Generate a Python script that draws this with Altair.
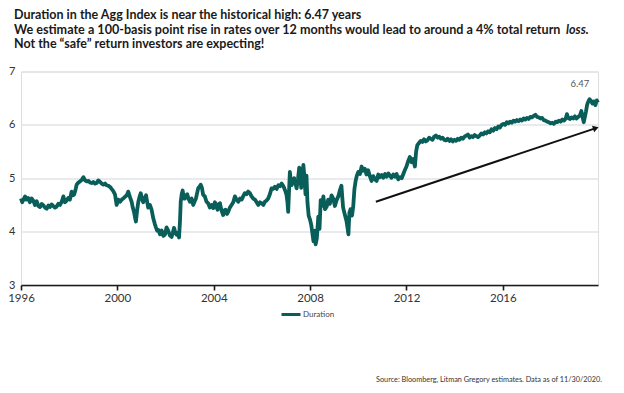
import altair as alt
import pandas as pd

# ---------------- data ----------------
years = [
    1996.00, 1996.05, 1996.10, 1996.17, 1996.23, 1996.30, 1996.37, 1996.44, 1996.51, 1996.58,
    1996.65, 1996.72, 1996.79, 1996.86, 1996.93, 1997.00, 1997.07, 1997.14, 1997.20, 1997.27,
    1997.34, 1997.41, 1997.48, 1997.55, 1997.62, 1997.69, 1997.76, 1997.82, 1997.89, 1997.96,
    1998.03, 1998.10, 1998.16, 1998.21, 1998.27, 1998.31, 1998.38, 1998.45, 1998.52, 1998.59,
    1998.66, 1998.73, 1998.80, 1998.87, 1998.93, 1999.00, 1999.07, 1999.14, 1999.21, 1999.28,
    1999.35, 1999.42, 1999.49, 1999.55, 1999.62, 1999.69, 1999.76, 1999.83, 1999.90, 1999.97,
    2000.04, 2000.11, 2000.18, 2000.24, 2000.31, 2000.39, 2000.45, 2000.52, 2000.59, 2000.64,
    2000.69, 2000.74, 2000.77, 2000.82, 2000.87, 2000.92, 2000.97, 2001.02, 2001.07, 2001.13,
    2001.19, 2001.24, 2001.28, 2001.35, 2001.42, 2001.49, 2001.55, 2001.60, 2001.65, 2001.70,
    2001.77, 2001.84, 2001.91, 2001.98, 2002.04, 2002.11, 2002.18, 2002.25, 2002.30, 2002.35,
    2002.41, 2002.46, 2002.51, 2002.56, 2002.60, 2002.63, 2002.67, 2002.71, 2002.76, 2002.80,
    2002.85, 2002.90, 2002.95, 2003.01, 2003.08, 2003.15, 2003.21, 2003.26, 2003.31, 2003.36,
    2003.41, 2003.46, 2003.51, 2003.56, 2003.63, 2003.70, 2003.77, 2003.84, 2003.91, 2003.98,
    2004.05, 2004.11, 2004.16, 2004.21, 2004.26, 2004.32, 2004.39, 2004.45, 2004.49, 2004.55,
    2004.60, 2004.67, 2004.74, 2004.81, 2004.88, 2004.95, 2005.02, 2005.09, 2005.16, 2005.22,
    2005.29, 2005.36, 2005.43, 2005.50, 2005.57, 2005.64, 2005.71, 2005.78, 2005.85, 2005.92,
    2005.99, 2006.06, 2006.12, 2006.19, 2006.26, 2006.33, 2006.40, 2006.47, 2006.54, 2006.61,
    2006.68, 2006.75, 2006.82, 2006.88, 2006.93, 2006.98, 2007.02, 2007.06, 2007.09, 2007.12,
    2007.16, 2007.20, 2007.23, 2007.28, 2007.34, 2007.39, 2007.44, 2007.50, 2007.55, 2007.58,
    2007.63, 2007.68, 2007.72, 2007.76, 2007.81, 2007.85, 2007.89, 2007.94, 2008.00, 2008.05,
    2008.10, 2008.14, 2008.19, 2008.23, 2008.28, 2008.34, 2008.39, 2008.44, 2008.50, 2008.55,
    2008.62, 2008.69, 2008.75, 2008.82, 2008.89, 2008.96, 2009.03, 2009.10, 2009.17, 2009.24,
    2009.30, 2009.34, 2009.37, 2009.44, 2009.51, 2009.56, 2009.59, 2009.63, 2009.68, 2009.74,
    2009.79, 2009.84, 2009.89, 2009.94, 2010.00, 2010.07, 2010.14, 2010.20, 2010.27, 2010.34,
    2010.41, 2010.48, 2010.55, 2010.62, 2010.69, 2010.76, 2010.83, 2010.90, 2010.97, 2011.04,
    2011.11, 2011.18, 2011.25, 2011.31, 2011.38, 2011.45, 2011.52, 2011.59, 2011.66, 2011.73,
    2011.80, 2011.87, 2011.93, 2012.00, 2012.07, 2012.14, 2012.21, 2012.28, 2012.35, 2012.40,
    2012.45, 2012.52, 2012.59, 2012.66, 2012.73, 2012.80, 2012.87, 2012.94, 2013.01, 2013.08,
    2013.15, 2013.22, 2013.29, 2013.36, 2013.43, 2013.50, 2013.57, 2013.64, 2013.71, 2013.78,
    2013.85, 2013.92, 2013.99, 2014.06, 2014.13, 2014.20, 2014.27, 2014.34, 2014.41, 2014.48,
    2014.55, 2014.62, 2014.69, 2014.76, 2014.83, 2014.90, 2014.97, 2015.04, 2015.11, 2015.18,
    2015.25, 2015.32, 2015.39, 2015.46, 2015.53, 2015.60, 2015.67, 2015.74, 2015.81, 2015.88,
    2015.95, 2016.02, 2016.09, 2016.16, 2016.23, 2016.30, 2016.37, 2016.44, 2016.51, 2016.58,
    2016.65, 2016.72, 2016.79, 2016.86, 2016.93, 2017.00, 2017.07, 2017.14, 2017.21, 2017.28,
    2017.35, 2017.42, 2017.49, 2017.56, 2017.63, 2017.70, 2017.77, 2017.84, 2017.91, 2017.98,
    2018.05, 2018.12, 2018.19, 2018.26, 2018.33, 2018.40, 2018.47, 2018.54, 2018.61, 2018.66,
    2018.71, 2018.78, 2018.85, 2018.92, 2018.99, 2019.06, 2019.13, 2019.20, 2019.26, 2019.31,
    2019.36, 2019.41, 2019.45, 2019.50, 2019.55, 2019.60, 2019.66, 2019.72, 2019.78, 2019.84,
    2019.90, 2019.95,
]

duration = [
    4.62, 4.55, 4.60, 4.66, 4.60, 4.63, 4.55, 4.62, 4.58, 4.50,
    4.57, 4.48, 4.46, 4.52, 4.49, 4.45, 4.43, 4.49, 4.46, 4.51,
    4.48, 4.45, 4.47, 4.52, 4.50, 4.56, 4.66, 4.55, 4.58, 4.63,
    4.60, 4.75, 4.68, 4.70, 4.80, 4.88, 4.92, 4.94, 4.97, 5.02,
    4.96, 4.94, 4.95, 4.92, 4.91, 4.93, 4.90, 4.91, 4.96, 4.93,
    4.90, 4.88, 4.90, 4.87, 4.86, 4.84, 4.80, 4.76, 4.70, 4.50,
    4.60, 4.56, 4.60, 4.62, 4.65, 4.68, 4.75, 4.65, 4.56, 4.45,
    4.37, 4.25, 4.19, 4.40, 4.56, 4.65, 4.72, 4.62, 4.55, 4.62,
    4.68, 4.55, 4.45, 4.50, 4.41, 4.25, 4.15, 4.08, 4.02, 4.03,
    3.95, 4.02, 3.92, 3.95, 4.08, 4.02, 3.93, 3.90, 3.98, 4.07,
    3.98, 3.94, 3.98, 3.89, 4.20, 4.56, 4.70, 4.77, 4.62, 4.62,
    4.68, 4.70, 4.62, 4.56, 4.62, 4.50, 4.57, 4.62, 4.72, 4.82,
    4.84, 4.88, 4.82, 4.69, 4.66, 4.56, 4.53, 4.45, 4.50, 4.44,
    4.55, 4.46, 4.41, 4.52, 4.53, 4.40, 4.31, 4.40, 4.41, 4.33,
    4.37, 4.45, 4.50, 4.55, 4.66, 4.60, 4.56, 4.62, 4.60, 4.66,
    4.72, 4.70, 4.75, 4.72, 4.66, 4.62, 4.60, 4.55, 4.50, 4.55,
    4.53, 4.50, 4.56, 4.58, 4.62, 4.70, 4.81, 4.80, 4.84, 4.80,
    4.87, 4.85, 4.90, 4.86, 4.81, 4.75, 4.69, 4.55, 4.37, 4.70,
    5.12, 4.95, 4.87, 4.95, 5.00, 4.90, 4.81, 5.00, 5.20, 5.15,
    4.82, 5.05, 5.25, 5.05, 4.70, 5.05, 4.55, 4.30, 4.22, 4.12,
    3.95, 3.82, 4.02, 3.76, 3.88, 4.28, 4.05, 4.59, 4.48, 4.66,
    4.42, 4.47, 4.60, 4.52, 4.68, 4.62, 4.48, 4.59, 4.66, 4.78,
    4.86, 4.62, 4.45, 4.32, 4.20, 4.05, 3.95, 4.35, 4.42, 4.30,
    4.47, 4.80, 4.95, 5.05, 5.12, 5.08, 5.22, 5.14, 5.18, 5.07,
    5.15, 5.04, 4.95, 5.04, 4.98, 4.95, 5.07, 5.02, 5.06, 5.01,
    5.08, 5.03, 5.09, 5.05, 5.01, 5.07, 5.03, 5.08, 4.98, 5.02,
    5.00, 5.08, 5.15, 5.22, 5.32, 5.40, 5.30, 5.36, 5.22, 5.50,
    5.62, 5.66, 5.70, 5.68, 5.73, 5.69, 5.71, 5.76, 5.74, 5.72,
    5.78, 5.80, 5.76, 5.78, 5.74, 5.76, 5.72, 5.71, 5.74, 5.70,
    5.73, 5.69, 5.72, 5.70, 5.74, 5.72, 5.76, 5.74, 5.78, 5.80,
    5.82, 5.76, 5.79, 5.77, 5.81, 5.79, 5.77, 5.80, 5.84, 5.82,
    5.86, 5.84, 5.88, 5.86, 5.92, 5.89, 5.94, 5.92, 5.97, 5.95,
    6.00, 6.02, 6.00, 6.05, 6.03, 6.06, 6.04, 6.08, 6.06, 6.09,
    6.07, 6.10, 6.08, 6.12, 6.10, 6.13, 6.11, 6.15, 6.14, 6.17,
    6.19, 6.15, 6.14, 6.12, 6.13, 6.09, 6.08, 6.06, 6.05, 6.03,
    6.04, 6.02, 6.06, 6.05, 6.08, 6.06, 6.10, 6.08, 6.12, 6.20,
    6.13, 6.11, 6.14, 6.12, 6.16, 6.12, 6.15, 6.18, 6.26, 6.14,
    6.05, 6.16, 6.25, 6.38, 6.44, 6.48, 6.45, 6.40, 6.44, 6.37,
    6.46, 6.42,
]

series_name = "Duration"
x_ticks = [1996, 2000, 2004, 2008, 2012, 2016]
y_ticks = [3, 4, 5, 6, 7]

arrow_years = [2010.73, 2019.80]
arrow_values = [4.56, 5.93]
arrow_head_year = [2019.86]
arrow_head_value = [5.94]

peak_label = ["6.47"]
peak_label_year = [2019.2]
peak_label_value = [6.77]

title_lines = [
    "Duration in the Agg Index is near the historical high: 6.47 years",
    "We estimate a 100-basis point rise in rates over 12 months would lead to around a 4% total return",
    "Not the \u201csafe\u201d return investors are expecting!",
]
title_italic = "loss."
source_text = "Source: Bloomberg, Litman Gregory estimates. Data as of 11/30/2020."

# ---------------- chart ----------------
TEAL = "#0a5e59"
FONT = "Lato"

df = pd.DataFrame({"year": years, "value": duration, "series": series_name})
df_arrow = pd.DataFrame({"year": arrow_years, "value": arrow_values})
df_head = pd.DataFrame({"year": arrow_head_year, "value": arrow_head_value})
df_peak = pd.DataFrame({"year": peak_label_year, "value": peak_label_value, "t": peak_label})

x_scale = alt.Scale(domain=[1996, 2019.95], nice=False, zero=False)
y_scale = alt.Scale(domain=[3, 7], nice=False, zero=False)

line = alt.Chart(df).mark_line(strokeWidth=3.8, strokeJoin="round").encode(
    x=alt.X("year:Q", scale=x_scale,
            axis=alt.Axis(values=x_ticks, format="d", grid=False, title=None,
                          domainColor="#1a1a1a", domainWidth=1.6,
                          tickColor="#1a1a1a", tickWidth=1.6, tickSize=5,
                          labelFontSize=11.5, labelColor="#333333", labelFont=FONT,
                          labelPadding=2, labelFlush=False)),
    y=alt.Y("value:Q", scale=y_scale,
            axis=alt.Axis(values=y_ticks, format="d", grid=True, gridColor="#dfe4e8",
                          gridWidth=1.5, domain=False, ticks=False, title=None,
                          labelFontSize=11, labelColor="#333333", labelFont=FONT,
                          labelPadding=6)),
    color=alt.Color("series:N", scale=alt.Scale(range=[TEAL]),
                    legend=alt.Legend(orient="none", legendX=259, legendY=232,
                                      title=None, symbolType="stroke",
                                      symbolSize=361, symbolStrokeWidth=3,
                                      labelFontSize=8, labelColor="#444444",
                                      labelFont=FONT, labelOffset=1, padding=0)),
)

arrow = alt.Chart(df_arrow).mark_line(color="#111111", strokeWidth=2).encode(
    x=alt.X("year:Q", scale=x_scale), y=alt.Y("value:Q", scale=y_scale)
)
head = alt.Chart(df_head).mark_point(shape="triangle-up", filled=True, color="#111111",
                                     size=45, angle=71.5, opacity=1).encode(
    x=alt.X("year:Q", scale=x_scale), y=alt.Y("value:Q", scale=y_scale)
)
peak = alt.Chart(df_peak).mark_text(fontSize=9.5, color="#555555", font=FONT).encode(
    x=alt.X("year:Q", scale=x_scale), y=alt.Y("value:Q", scale=y_scale), text="t:N"
)


def label(txt, x, y, **kw):
    d = pd.DataFrame({"t": [txt]})
    return alt.Chart(d).mark_text(align=kw.pop("align", "left"), baseline="alphabetic",
                                  **kw).encode(x=alt.value(x), y=alt.value(y), text="t:N")


title_style = dict(font=FONT, fontSize=12.5, fontWeight="bold", color="#1a1a1a")
line2_style = dict(font=FONT, fontSize=12.6, fontWeight="bold", color="#1a1a1a")
t1 = label(title_lines[0], -7, -52.5, **title_style)
t2 = label(title_lines[1], -7, -38, **line2_style)
t2b = label(title_italic, 545, -38, fontStyle="italic", **line2_style)
t3 = label(title_lines[2], -7, -23.5, **title_style)
src = label(source_text, 581, 310, align="right", font=FONT, fontSize=7.3, color="#333333")

chart = alt.layer(line, arrow, head, peak, t1, t2, t2b, t3, src).properties(
    width=577, height=213.5,
    autosize=alt.AutoSizeParams(type="none"),
    padding={"left": 13, "top": 63.5, "right": 18, "bottom": 100},
).configure_view(stroke=None).configure(background="white")

chart.save("out.html", embed_options={"renderer": "svg", "actions": False})
